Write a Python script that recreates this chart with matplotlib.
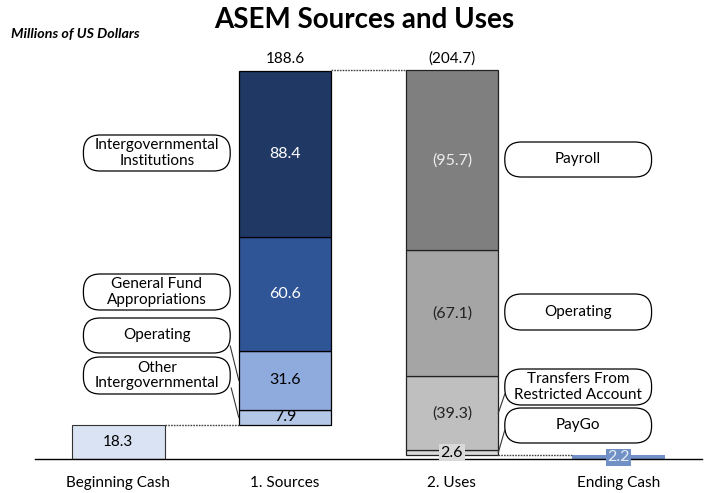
import matplotlib.pyplot as plt
from matplotlib.patches import FancyBboxPatch

plt.rcParams['font.family'] = ['Lato', 'DejaVu Sans']

# ---- data (millions of US dollars) ----
categorias = ["Beginning Cash", "1. Sources", "2. Uses", "Ending Cash"]
caja_inicial = 18.3
caja_final = 2.2

fuentes_nombres = ["Other\nIntergovernmental", "Operating",
                   "General Fund\nAppropriations", "Intergovernmental\nInstitutions"]
fuentes_valores = [7.9, 31.6, 60.6, 88.4]
fuentes_total = 188.6

usos_nombres = ["PayGo", "Transfers From\nRestricted Account", "Operating", "Payroll"]
usos_valores = [2.6, 39.3, 67.1, 95.7]
usos_total = 204.7

# ---- styles ----
col_fuentes = ["#B4C7E7", "#8FAADC", "#2F5597", "#203864"]
txt_fuentes = ["black", "black", "white", "white"]
col_usos = ["#D9D9D9", "#BFBFBF", "#A5A5A5", "#7F7F7F"]
txt_usos = ["black", "#222222", "#222222", "#EDEDED"]
col_inicial = "#DAE3F3"
col_final = "#7090C6"

W, H = 707, 493
fig = plt.figure(figsize=(W / 100, H / 100), dpi=100)
ax = fig.add_axes([35 / W, (H - 459.3) / H, 667 / W, (459.3 - 50) / H])
px_y = 1.88  # pixels per unit
ax.set_xlim(-0.5, 3.5)
ax.set_ylim(0, (459.3 - 50) / px_y)
ancho = 0.556

for s in ["top", "right", "left"]:
    ax.spines[s].set_visible(False)
ax.spines["bottom"].set_linewidth(1.0)
ax.set_yticks([])
ax.set_xticks(range(4))
ax.set_xticklabels(categorias, fontsize=11)
ax.tick_params(axis="x", length=0, pad=12)

# beginning cash
ax.bar(0, caja_inicial, width=ancho, color=col_inicial, edgecolor="#333333", linewidth=0.8)
ax.text(0, caja_inicial / 2, f"{caja_inicial:.1f}", ha="center", va="center", fontsize=11)

# sources
base = caja_inicial
centros_fuentes = []
for v, c, t in zip(fuentes_valores, col_fuentes, txt_fuentes):
    ax.bar(1, v, bottom=base, width=ancho, color=c, edgecolor="black", linewidth=0.9)
    ax.text(1, base + v / 2, f"{v:.1f}", ha="center", va="center", fontsize=11.5, color=t)
    centros_fuentes.append(base + v / 2)
    base += v
tope = caja_inicial + fuentes_total
ax.annotate(f"{fuentes_total:.1f}", (1, tope), xytext=(0, 3), textcoords="offset points",
            ha="center", va="bottom", fontsize=11)

# uses (drawn downward from top)
base = tope - usos_total
centros_usos = []
for v, c, t in zip(usos_valores, col_usos, txt_usos):
    ax.bar(2, v, bottom=base, width=ancho, color=c, edgecolor="#222222", linewidth=0.9)
    centros_usos.append(base + v / 2)
    if v < 5:
        ax.text(2, base + v / 2, f"{v:.1f}", ha="center", va="center", fontsize=11.5, color=t,
                bbox=dict(boxstyle="square,pad=0.1", fc=c, ec="none"))
    else:
        ax.text(2, base + v / 2, f"({v:.1f})", ha="center", va="center", fontsize=11.5, color=t)
    base += v
ax.annotate(f"({usos_total:.1f})", (2, tope), xytext=(0, 3), textcoords="offset points",
            ha="center", va="bottom", fontsize=11)

# ending cash
ax.bar(3, caja_final, width=ancho, color=col_final, edgecolor="none")
ax.text(3, caja_final / 2, f"{caja_final:.1f}", ha="center", va="center", fontsize=11.5,
        color="#E8EEF8", bbox=dict(boxstyle="square,pad=0.1", fc=col_final, ec="none"))

# dotted connectors
h = ancho / 2
punteado = dict(ls=(0, (1.2, 0.8)), color="#444444", lw=1.0)
ax.plot([0 + h, 1 - h], [caja_inicial, caja_inicial], **punteado)
ax.plot([1 + h, 2 - h], [tope, tope], **punteado)
ax.plot([2 + h, 3 - h], [caja_final, caja_final], **punteado)


# callout boxes
def py2v(py):
    return (459.3 - py) / px_y


def px2x(px):
    return (px - 118) / 167


aspecto = 167 / px_y


def globo(texto, x0, x1, ytop, ybot):
    y0, y1 = py2v(ybot), py2v(ytop)
    caja = FancyBboxPatch((px2x(x0), y0), px2x(x1) - px2x(x0), y1 - y0,
                          boxstyle="round,pad=0,rounding_size=0.1",
                          mutation_aspect=aspecto, fc="white", ec="black", lw=0.9,
                          clip_on=False)
    ax.add_patch(caja)
    ax.text((px2x(x0) + px2x(x1)) / 2, (y0 + y1) / 2, texto, ha="center", va="center",
            fontsize=11, linespacing=1.12)


cajas_fuentes = [(357, 394), (318, 353), (274, 310), (135, 171)]
for nombre, (yt, yb) in zip(fuentes_nombres, cajas_fuentes):
    globo(nombre, 83, 230, yt, yb)

cajas_usos = [(408, 443), (369, 405), (294, 330), (142, 177)]
for nombre, (yt, yb) in zip(usos_nombres, cajas_usos):
    globo(nombre, 505, 652, yt, yb)

# leader lines
ax.plot([px2x(231), 1 - h], [py2v(388), centros_fuentes[0]], color="#333333", lw=0.8)
ax.plot([px2x(230), 1 - h], [py2v(346), centros_fuentes[1]], color="#333333", lw=0.8)
ax.plot([px2x(505), 2 + h], [py2v(430), centros_usos[0]], color="#333333", lw=0.8)
ax.plot([px2x(505), 2 + h], [py2v(394), centros_usos[1]], color="#333333", lw=0.8)

fig.text(364 / W, 1 - 20 / H, "ASEM Sources and Uses", ha="center", va="center",
         fontsize=20, fontweight="bold")
fig.text(11 / W, 1 - 34 / H, "Millions of US Dollars", ha="left", va="center",
         fontsize=10.3, fontweight="bold", style="italic")

fig.savefig("out.png", dpi=100)
